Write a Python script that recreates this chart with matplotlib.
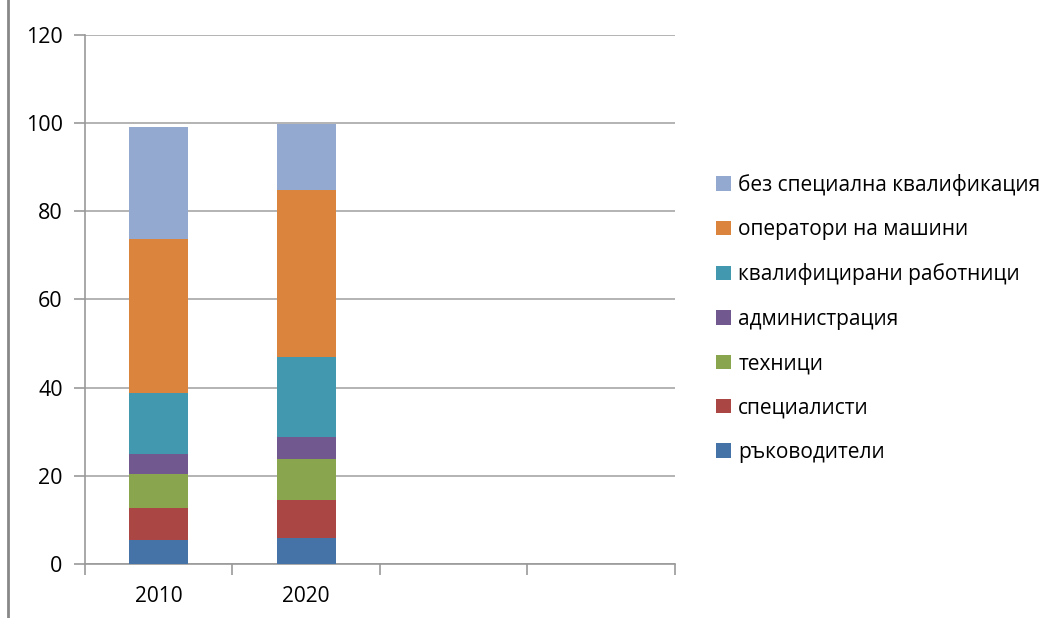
import numpy as np
import matplotlib.pyplot as plt
from matplotlib.lines import Line2D

# данни
years = ['2010', '2020', '', '']
categories = ['ръководители', 'специалисти', 'техници', 'администрация',
              'квалифицирани работници', 'оператори на машини',
              'без специална квалификация']
v2010 = [5.4, 7.3, 7.6, 4.6, 13.8, 34.9, 25.5]
v2020 = [6.0, 8.5, 9.3, 5.1, 18.0, 37.9, 15.0]
colors = ['#4572A7', '#AA4643', '#89A54E', '#71588F', '#4198AF', '#DB843D', '#93A9CF']

plt.rcParams['font.family'] = ['Open Sans', 'DejaVu Sans']

fig = plt.figure(figsize=(10.54, 6.18), dpi=100)
ax = fig.add_axes([0.0806, 0.0874, 0.5598, 0.8565])

x = np.arange(2)
vals = np.array([v2010, v2020]).T
bottom = np.zeros(2)
for i, name in enumerate(categories):
    ax.bar(x, vals[i], 0.4, bottom=bottom, color=colors[i], label=name, zorder=3)
    bottom += vals[i]

ax.set_xlim(-0.5, 3.5)
ax.set_ylim(0, 120)
ax.set_yticks(range(0, 121, 20))
ax.yaxis.grid(True, color='#b3b3b3', linewidth=1.4, zorder=0)
ax.set_xticks(range(4))
ax.set_xticklabels(years)
ax.set_xticks(np.arange(-0.5, 3.6, 1), minor=True)
ax.tick_params(axis='x', which='major', length=0, pad=16, labelsize=15)
ax.tick_params(axis='x', which='minor', length=8, color='#999999', width=1.2)
ax.tick_params(axis='y', length=8, color='#999999', width=1.2, labelsize=15.5, pad=8)
for s in ['top', 'right']:
    ax.spines[s].set_visible(False)
for s in ['left', 'bottom']:
    ax.spines[s].set_color('#999999')
    ax.spines[s].set_linewidth(1.2)

h, l = ax.get_legend_handles_labels()
fig.legend(h[::-1], l[::-1], loc='center left', bbox_to_anchor=(0.662, 0.485),
           frameon=False, fontsize=15, handlelength=0.7, handleheight=0.7,
           handletextpad=0.35, labelspacing=1.12)

# рамка отляво
fig.add_artist(Line2D([0.0075, 0.0075], [0, 1], color='#888888', linewidth=2,
                      transform=fig.transFigure))

fig.savefig('out.png', dpi=100)
